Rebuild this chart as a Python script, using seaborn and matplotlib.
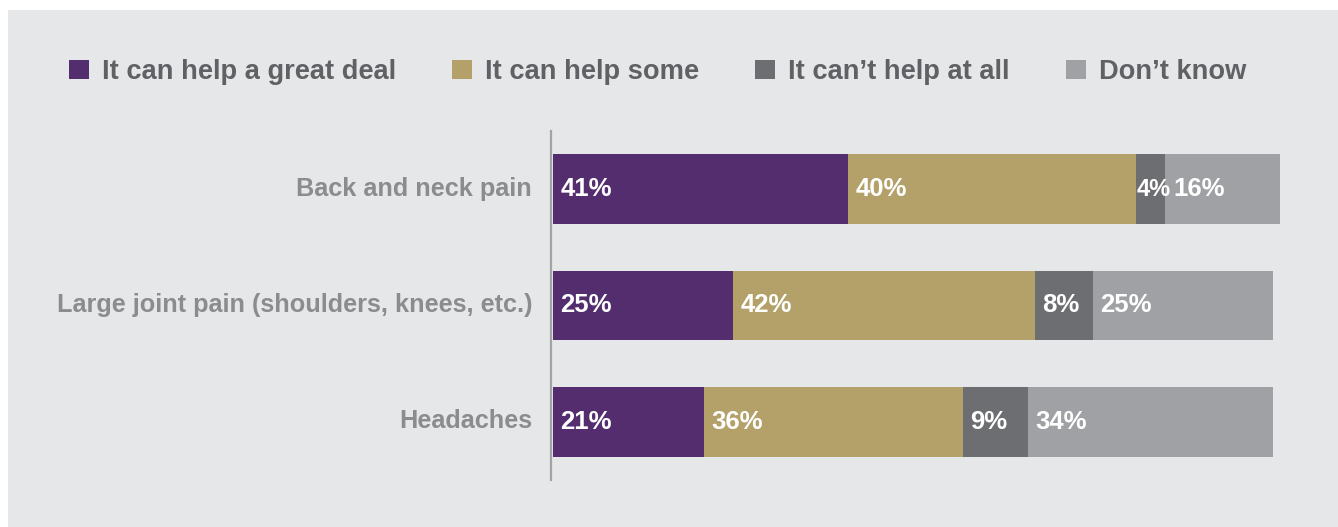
import matplotlib
matplotlib.use("Agg")
import matplotlib.pyplot as plt
from matplotlib.patches import Patch, Rectangle
from matplotlib.transforms import ScaledTranslation
import numpy as np
import pandas as pd
import seaborn as sns

# Survey responses per condition (percent)
conditions = ["Back and neck pain",
              "Large joint pain (shoulders, knees, etc.)",
              "Headaches"]
responses = ["It can help a great deal", "It can help some",
             "It can\u2019t help at all", "Don\u2019t know"]
great_deal = [41, 25, 21]
some = [40, 42, 36]
not_at_all = [4, 8, 9]
dont_know = [16, 25, 34]

colors = ["#532d6d", "#b3a169", "#6d6e71", "#a0a1a4"]
bg = "#e6e7e9"

sns.set_theme(style="white")
plt.rcParams["font.family"] = ["Liberation Sans", "DejaVu Sans"]
plt.rcParams["font.weight"] = "bold"

W, H = 1338, 527
fig = plt.figure(figsize=(W / 100, H / 100), dpi=100, facecolor="white")
fig.patches.append(Rectangle((8 / W, 0), 1 - 8 / W, 1 - 10 / H,
                             transform=fig.transFigure, facecolor=bg,
                             edgecolor="none", zorder=-10))

ax_left, ax_right = 553 / W, 1280 / W
ax_top, ax_bottom = 1 - 131 / H, 1 - 480 / H
ax = fig.add_axes([ax_left, ax_bottom, ax_right - ax_left, ax_top - ax_bottom])
ax.patch.set_alpha(0)

series = [great_deal, some, not_at_all, dont_know]
df = pd.DataFrame({"condition": conditions})
left = np.zeros(len(conditions))
prev_narrow = np.zeros(len(conditions), dtype=bool)
for name, vals, col in zip(responses, series, colors):
    df[name] = vals
    sns.barplot(data=df, y="condition", x=name, orient="h", color=col,
                left=left, width=0.6, saturation=1, ax=ax,
                edgecolor="none", linewidth=0)
    for i, v in enumerate(vals):
        narrow = v < 6
        pad = 0.15 if narrow else (1.25 if prev_narrow[i] else 1.0)
        ax.text(left[i] + pad, i, f"{v}%", color="white",
                fontsize=17 if narrow else 18.5,
                fontweight="bold", va="center", ha="left")
        prev_narrow[i] = narrow
    left = left + np.array(vals)

ax.set_xlim(0, left.max())
ax.set_ylim(2.5, -0.5)
ax.set_xlabel("")
ax.set_ylabel("")
ax.set_xticks([])
for s in ["top", "right", "bottom"]:
    ax.spines[s].set_visible(False)
ax.spines["left"].set_color("#a3a4a6")
ax.spines["left"].set_linewidth(1.6)
ax.spines["left"].set_position(("outward", 1.5))
ax.tick_params(axis="y", length=0, pad=13.5, labelsize=18.2,
               labelcolor="#8b8c8e")
lift = ScaledTranslation(0, 3 / 100, fig.dpi_scale_trans)
for lab in ax.get_yticklabels():
    lab.set_fontweight("bold")
    lab.set_transform(lab.get_transform() + lift)

handles = [Patch(facecolor=c, edgecolor="none") for c in colors]
leg = fig.legend(handles, responses, loc="center left",
                 bbox_to_anchor=(69 / W, 1 - 72 / H), ncol=4, frameon=False,
                 fontsize=19.6, handlelength=0.74, handleheight=0.74,
                 handletextpad=0.48, columnspacing=2.05, borderpad=0,
                 borderaxespad=0)
for t in leg.get_texts():
    t.set_color("#606164")
    t.set_fontweight("bold")

fig.savefig("out.png", dpi=100, facecolor="white")
